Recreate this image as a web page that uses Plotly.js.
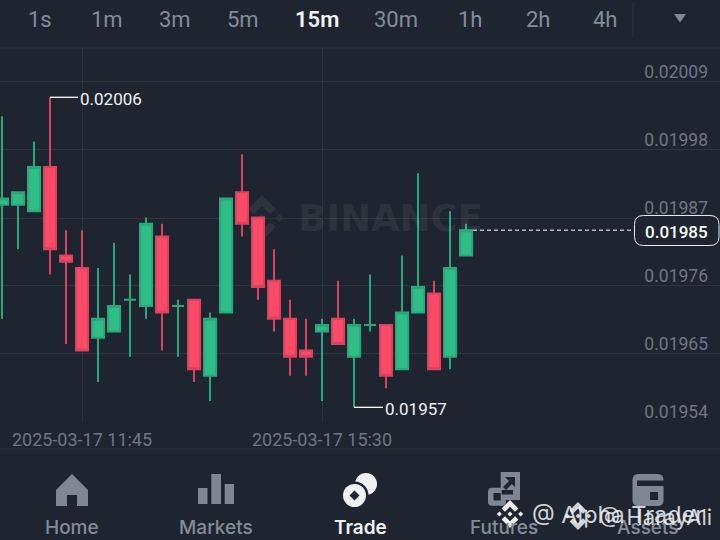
<!DOCTYPE html>
<html><head><meta charset="utf-8">
<script src="https://cdn.plot.ly/plotly-3.0.1.min.js"></script>
<style>html,body{margin:0;padding:0;background:#1e2530}#c{width:720px;height:540px}</style>
</head><body><div id="c"></div>
<script>
const times=["10:30","10:45","11:00","11:15","11:30","11:45","12:00","12:15","12:30","12:45","13:00","13:15","13:30","13:45","14:00","14:15","14:30","14:45","15:00","15:15","15:30","15:45","16:00","16:15","16:30","16:45","17:00","17:15","17:30","17:45"].map(t=>"2025-03-17 "+t);
const opens =[.01989,.01989,.01988,.01995,.01981,.01979,.01968,.01969,.01974,.01973,.01984,.01973,.01974,.01962,.01972,.01991,.01987,.01977,.01971,.01966,.01969,.01971,.01965,.01970,.01970,.01963,.01972,.01975,.01965,.01981];
const highs =[.02003,.01991,.01999,.02006,.01985,.01985,.01979,.01983,.01978,.01987,.01986,.01974,.01974,.01972,.01990,.01997,.01987,.01982,.01974,.01971,.01971,.01977,.01971,.01978,.01970,.01981,.01994,.01977,.01988,.01986];
const lows  =[.01971,.01982,.01988,.01978,.01967,.01966,.01961,.01969,.01965,.01971,.01966,.01965,.01961,.01958,.01972,.01984,.01974,.01969,.01962,.01962,.01958,.01967,.01957,.01969,.01960,.01963,.01972,.01963,.01963,.01981];
const closes=[.01990,.01991,.01995,.01982,.01980,.01966,.01971,.01973,.01974,.01986,.01972,.01973,.01963,.01971,.01990,.01986,.01976,.01971,.01965,.01965,.01970,.01967,.01970,.01970,.01962,.01972,.01976,.01963,.01979,.01985];
const priceTicks=[.0200842,.0199767,.0198692,.0197618,.0196543,.0195469];
const priceLabels=["0.02009","0.01998","0.01987","0.01976","0.01965","0.01954"];
const dateTicks=["2025-03-17 11:45","2025-03-17 15:30"];
const intervals=["1s","1m","3m","5m","15m","30m","1h","2h","4h"];
const intervalX=[40,107,175,243,317,396,470,538,605];
const navLabels=["Home","Markets","Trade","Futures","Assets"];
const navX=[72,216,360,504,648];
const lastPrice=.01985, hiPrice=.02006, loPrice=.01957, hiIdx=3, loIdx=22, lastIdx=29;

const BG="#1e2530",GRID="#2d343f",DIM="#848c99",ICON="#7f8794",AXIS="#6e7683",GREEN="#2ebd85",RED="#fb4a65",F="Roboto, sans-serif";
const T=48,B=422;
const px=(x,y)=>[x/720,(B-y)/(B-T)];
const poly=(pts)=>pts.map((p,i)=>{const q=px(p[0],p[1]);return (i?"L":"M")+q[0]+","+q[1]}).join(" ")+" Z";
const shape=(path,color,layer)=>({type:"path",xref:"paper",yref:"paper",path,fillcolor:color,line:{width:0},layer:layer||"above"});
const circle=(cx,cy,r,color)=>{const a=px(cx-r,cy-r),b=px(cx+r,cy+r);return{type:"circle",xref:"paper",yref:"paper",x0:a[0],y0:a[1],x1:b[0],y1:b[1],fillcolor:color,line:{width:0},layer:"above"}};
const rect=(x0,y0,x1,y1,c)=>shape(poly([[x0,y0],[x1,y0],[x1,y1],[x0,y1]]),c);
const pline=(x0,y0,x1,y1,c,w,dash)=>{const a=px(x0,y0),b=px(x1,y1);return{type:"line",xref:"paper",yref:"paper",x0:a[0],y0:a[1],x1:b[0],y1:b[1],line:{color:c,width:w,dash:dash||"solid"},layer:"above"}};
function rrect(x0,y0,x1,y1,r){const P=(x,y)=>px(x,y).join(",");
 return `M${P(x0+r,y0)} L${P(x1-r,y0)} Q${P(x1,y0)} ${P(x1,y0+r)} L${P(x1,y1-r)} Q${P(x1,y1)} ${P(x1-r,y1)} L${P(x0+r,y1)} Q${P(x0,y1)} ${P(x0,y1-r)} L${P(x0,y0+r)} Q${P(x0,y0)} ${P(x0+r,y0)} Z`;}
function logo(cx,cy,s,c,layer){const d=(x,y,r)=>shape(poly([[cx+x*s,cy+(y-r)*s],[cx+(x+r)*s,cy+y*s],[cx+x*s,cy+(y+r)*s],[cx+(x-r)*s,cy+y*s]]),c,layer);
 const chev=(sy)=>shape(poly([[cx,cy+sy*1*s],[cx+.6*s,cy+sy*.4*s],[cx+.36*s,cy+sy*.16*s],[cx,cy+sy*.52*s],[cx-.36*s,cy+sy*.16*s],[cx-.6*s,cy+sy*.4*s]]),c,layer);
 return [chev(-1),chev(1),d(-.76,0,.18),d(.76,0,.18),d(0,0,.18)];}

const shapes=[
 pline(0,48,720,48,GRID,1),
 pline(0,449,720,449,GRID,1),
 pline(633,2,633,37,GRID,1),
 shape(poly([[674,14],[686,14],[680,22.5]]),ICON),
 {type:"line",xsizemode:"pixel",xanchor:times[hiIdx],xref:"x",yref:"y",x0:0,x1:28,y0:hiPrice,y1:hiPrice,line:{color:"#fff",width:1.3},layer:"above"},
 {type:"line",xsizemode:"pixel",xanchor:times[loIdx],xref:"x",yref:"y",x0:0,x1:29,y0:loPrice,y1:loPrice,line:{color:"#fff",width:1.3},layer:"above"},
 {type:"line",xsizemode:"pixel",xanchor:times[lastIdx],xref:"x",yref:"y",x0:7,x1:168,y0:lastPrice,y1:lastPrice,line:{color:"#fff",width:1,dash:"4px,3px"},layer:"above"},
 {type:"path",xref:"paper",yref:"paper",path:rrect(634.5,215.5,719,245.5,9),fillcolor:BG,line:{color:"#e8eaee",width:1},layer:"above"},
 // home
 shape(poly([[72,474],[88,490],[88,506],[77,506],[77,495],[67,495],[67,506],[56,506],[56,490]]),ICON),
 // markets
 rect(198,488,207.5,504,ICON),rect(211.3,474,221,504,ICON),rect(224.7,484,234,504,ICON),
 // trade
 circle(366,484,11,"#f0f1f3"),circle(354.5,495.5,14,BG),circle(354.5,495.5,11.5,"#f0f1f3"),
 shape(poly([[354.5,490.5],[359.5,495.5],[354.5,500.5],[349.5,495.5]]),BG),
 // futures
 rect(500.7,472,520,500,ICON),shape(rrect(488,487.7,506,505.7,4),ICON),rect(493.5,493,500.7,500.5,BG),
 rect(501.7,490,513,494.5,BG),
 shape(poly([[505,477],[515,477],[515,487],[512,484],[506,490],[503,487],[509,481]]),BG),
 // assets
 shape(rrect(632.5,474,663.5,506,6),ICON),rect(637,480.5,664,486,BG),rect(650,492,658,500,BG),
 ...logo(262,218,23,"#2c333e","below"),
 ...logo(510,514,14,"#eef0f2"),
 ...logo(578,516,14,"rgba(238,240,242,.85)")
];
const ann=(x,y,text,o)=>Object.assign({xref:"paper",yref:"paper",x:x/720,y:(B-y)/(B-T),text,showarrow:false,xanchor:"center",yanchor:"middle",font:{family:F,size:22,color:DIM}},o||{});
const annotations=[
 ...intervals.map((t,i)=>ann(intervalX[i],20,t,t==="15m"?{font:{family:F,size:22,weight:600,color:"#f2f3f5"}}:{})),
 ...navLabels.map((t,i)=>ann(navX[i],527,t,{font:{family:"Inter, sans-serif",size:19,weight:t==="Trade"?600:500,color:t==="Trade"?"#f2f3f5":DIM}})),
 ann(390,218,"BINANCE",{font:{family:"DejaVu Sans, sans-serif",size:37,weight:700,color:"rgba(255,255,255,.07)"}}),
 {xref:"x",yref:"y",x:times[hiIdx],y:hiPrice,xshift:28,text:hiPrice.toFixed(5),showarrow:false,xanchor:"left",yanchor:"middle",yshift:-2,font:{family:F,size:17,color:"#f2f3f5"}},
 {xref:"x",yref:"y",x:times[loIdx],y:loPrice,xshift:29,text:loPrice.toFixed(5),showarrow:false,xanchor:"left",yanchor:"middle",yshift:-2,font:{family:F,size:17,color:"#f2f3f5"}},
 {xref:"paper",yref:"y",x:710/720,y:lastPrice,text:lastPrice.toFixed(5),showarrow:false,xanchor:"right",yanchor:"middle",yshift:-2,font:{family:F,size:17,weight:500,color:"#fff"}},
 ann(530,514,"@ Alpha Trader",{xanchor:"left",font:{family:"Inter, sans-serif",size:23.5,color:"rgba(240,242,244,.85)"}}),
 ann(597,517,"@ HarayAli",{xanchor:"left",font:{family:"Inter, sans-serif",size:22,color:"rgba(240,242,244,.85)"}})
];
const tr={type:"candlestick",x:times,open:opens,high:highs,low:lows,close:closes,hoverinfo:"skip",whiskerwidth:0,
 increasing:{line:{color:"#2aa87b",width:2},fillcolor:GREEN},
 decreasing:{line:{color:"#d9435f",width:2},fillcolor:RED}};
Plotly.newPlot("c",[tr],{
 width:720,height:540,margin:{l:0,r:0,t:T,b:540-B,pad:0},paper_bgcolor:BG,plot_bgcolor:BG,showlegend:false,boxgap:.25,boxgroupgap:0,
 xaxis:{type:"date",range:["2025-03-17 10:28:07.5","2025-03-17 21:43:07.5"],rangeslider:{visible:false},tickmode:"array",tickvals:dateTicks,tickformat:"%Y-%m-%d %H:%M",ticks:"",showgrid:true,gridcolor:GRID,gridwidth:1,zeroline:false,showline:false,ticklabelstandoff:5,tickfont:{family:F,size:18,color:AXIS}},
 yaxis:{side:"right",range:[.0195468,.0201379],tickmode:"array",tickvals:priceTicks,ticktext:priceLabels,ticks:"",ticklabelposition:"inside",ticklabelshift:-10,ticklabelstandoff:9,ticklabeloverflow:"allow",showgrid:true,gridcolor:GRID,gridwidth:1,zeroline:false,showline:false,tickfont:{family:F,size:17.5,color:AXIS}},
 shapes,annotations
},{displayModeBar:false,staticPlot:true});
</script></body></html>
